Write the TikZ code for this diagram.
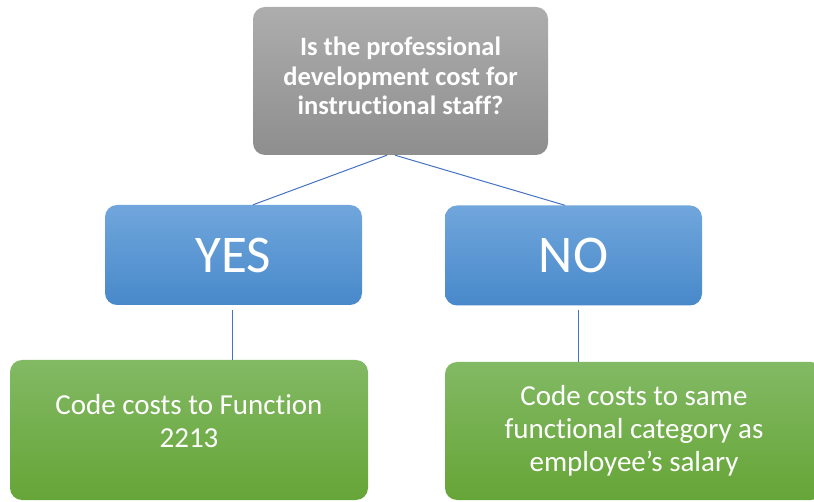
\documentclass[tikz,border=0pt]{standalone}
\usepackage{fontspec}
\setmainfont{Carlito}[RawFeature={-liga;-clig;-dlig;-calt}]
\definecolor{linkblue}{HTML}{4472C4}
\definecolor{grayT}{HTML}{ADADAD}
\definecolor{grayB}{HTML}{8E8E8E}
\definecolor{blueT}{HTML}{70A6DC}
\definecolor{blueB}{HTML}{4889CA}
\definecolor{greenT}{HTML}{82B964}
\definecolor{greenB}{HTML}{66A537}
\tikzset{
  box/.style={rectangle, rounded corners=12pt, draw=none, text=white, align=center, inner sep=0pt},
  qbox/.style={box, top color=grayT, bottom color=grayB, minimum width=295pt, minimum height=148pt},
  qtext/.style={text=white, align=center, inner sep=0pt, font=\fontsize{26.5}{29.5}\selectfont\bfseries},
  abox/.style={box, top color=blueT, bottom color=blueB, minimum width=257pt, minimum height=100pt,
     font=\fontsize{53}{60}\selectfont},
  rbox/.style={box, top color=greenT, bottom color=greenB},
  rtext/.style={text=white, align=center, inner sep=0pt, font=\fontsize{29}{33}\selectfont},
  link/.style={draw=linkblue, line width=1pt}
}
\begin{document}
\begin{tikzpicture}[x=1pt,y=-1pt]
\useasboundingbox (0,0) rectangle (814,502);
\clip (0,0) rectangle (814,502);
\node[qbox] (q) at (400.5,81) {};
\node[qtext] (qt) at ([yshift=5pt]q.center) {Is the professional\\development cost for\\instructional staff?};
\node[abox] (yes) at (233.5,255) {YES};
\node[abox] (no) at (573.5,255.5) {NO};
\node[rbox, minimum width=358pt, minimum height=140pt] (lg) at (189,430) {};
\node[rbox, minimum width=378pt, minimum height=138pt] (rg) at (634,431) {};
\node[rtext] (lgt) at ([yshift=9pt]lg.center) {Code costs to Function\\2213};
\node[rtext] (rgt) at ([yshift=0pt]rg.center) {Code costs to same\\functional category as\\employee’s salary};
\draw[link] ([xshift=-13.5pt]q.south) -- ([xshift=19.5pt]yes.north);
\draw[link] ([xshift=-5.5pt]q.south) -- ([xshift=-8.5pt]no.north);
\coordinate (ya) at ([xshift=-1.5pt,yshift=-5pt]yes.south);
\coordinate (na) at ([xshift=4.5pt,yshift=-4pt]no.south);
\draw[link] (ya) -- (ya |- lg.north);
\draw[link] (na) -- (na |- rg.north);
\end{tikzpicture}
\end{document}
